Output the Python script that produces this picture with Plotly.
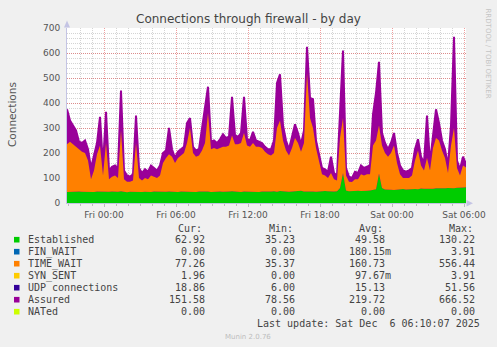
import plotly.graph_objects as go
import pandas as pd

# ---------------- data (15-minute samples) ----------------
start_time = "2025-12-04 20:55"
n_points = 134

established = [44,45,43,44,46,45,44,43,45,44,46,45,44,43,45,46,44,45,47,44,43,45,44,46,45,44,45,43,44,46,45,44,46,45,
               46,45,47,44,46,45,47,46,45,44,46,47,45,46,44,45,47,46,45,44,46,47,45,46,44,46,45,47,46,45,44,46,45,47,
               46,47,45,48,46,47,45,46,48,47,49,46,47,48,46,45,47,46,48,47,45,46,47,60,120,50,47,48,50,49,48,50,49,
               50,52,55,118,60,54,55,53,52,54,55,56,54,55,57,56,55,58,57,56,58,57,59,58,57,59,60,58,59,61,60,62,63]

time_wait = [191,200,192,181,169,160,156,127,50,86,149,185,66,197,50,59,66,55,243,51,42,40,46,194,55,46,55,52,66,59,55,66,114,135,
             149,140,113,136,144,155,193,254,155,141,144,163,195,314,171,175,168,174,180,181,184,223,190,189,196,234,185,178,194,180,181,174,160,148,
             144,153,255,282,204,163,145,174,212,193,156,194,473,292,254,175,123,69,62,53,75,49,43,200,220,60,38,36,45,46,67,60,66,
             65,178,195,192,170,146,130,147,178,106,60,44,46,45,53,114,155,92,73,124,72,163,201,192,153,121,60,172,241,79,50,88,77]

fin_wait = [0,0,0,0,0,0,0,0,0,0,0,0,0,0,0,0,0,0,0,0,0,0,0,0,0,0,0,0,0,0,0,0,0,0,
            0,0,0,0,0,0,0,0,0,0,0,0,0,0,0,0,0,0,0,0,0,0,0,0,0,0,0,0,0,0,0,0,0,0,
            0,0,0,0,0,0,0,0,0,0,0,0,0,0,0,0,0,0,0,0,0,0,0,0,0,0,0,0,0,0,0,0,0,
            0,0,0,0,0,0,0,0,0,0,0,0,0,0,0,0,0,0,0,0,0,0,0,0,0,0,0,0,0,0,0,0,0]
syn_sent = [0,0,0,0,0,0,0,0,0,0,0,0,0,0,0,0,0,0,0,0,0,0,0,0,0,0,0,0,0,0,0,0,0,0,
            0,0,0,0,0,0,0,0,0,0,0,0,0,0,0,0,0,0,0,0,0,0,0,0,0,0,0,0,0,0,0,0,0,0,
            0,0,0,0,0,0,0,0,0,0,0,0,0,0,0,0,0,0,0,0,0,0,0,0,0,0,0,0,0,0,0,0,0,
            0,0,0,0,0,0,0,0,0,0,0,0,0,0,0,0,0,0,0,0,0,0,0,0,0,0,0,0,0,0,0,0,2]

udp = [14,15,13,16,15,14,17,12,10,13,15,16,11,17,10,11,12,11,18,10,9,8,9,16,11,10,11,10,12,11,10,12,14,15,
       15,14,13,15,16,15,17,19,15,14,15,16,18,22,15,16,15,16,17,17,16,19,17,16,17,20,16,15,17,16,16,15,14,14,
       14,15,20,22,17,15,14,16,18,17,15,17,25,21,19,15,13,10,9,9,11,8,7,17,19,9,7,6,8,8,10,9,10,
       10,16,18,17,16,15,14,15,17,12,10,8,8,8,9,13,16,12,11,14,11,16,18,18,16,14,10,16,20,13,11,15,19]

assured = [375,330,310,290,245,240,250,215,140,185,240,345,150,365,130,145,150,140,450,130,110,105,115,350,140,120,135,125,150,140,130,150,200,210,
           300,215,180,205,215,225,320,340,225,210,215,300,390,465,245,250,240,255,275,260,265,425,270,265,280,425,255,250,285,250,245,240,225,215,
           215,250,480,515,310,250,215,270,315,280,235,290,625,420,415,250,195,140,135,125,185,120,110,350,610,140,105,100,125,120,150,140,145,
           150,355,440,565,280,240,215,240,280,200,150,130,125,130,140,215,255,185,160,350,160,270,375,320,250,215,150,310,665,170,135,185,157]

# legend table
legend_names = ["Established", "FIN_WAIT", "TIME_WAIT", "SYN_SENT", "UDP connections", "Assured", "NATed"]
legend_colors = ["#00CC00", "#0066B3", "#FF8000", "#FFCC00", "#330099", "#990099", "#CCFF00"]
cur_vals = ["62.92", "0.00", "77.26", "1.96", "18.86", "151.58", "0.00"]
min_vals = ["35.23", "0.00", "35.37", "0.00", "6.00", "78.56", "0.00"]
avg_vals = ["49.58", "180.15m", "160.73", "97.67m", "15.13", "219.72", "0.00"]
max_vals = ["130.22", "3.91", "556.44", "3.91", "51.56", "666.52", "0.00"]
headers = ["Cur:", "Min:", "Avg:", "Max:"]

y_ticks = [0, 100, 200, 300, 400, 500, 600, 700]
title_text = "Connections through firewall - by day"
y_title = "Connections"
last_update = "Last update: Sat Dec\u00a0\u00a06 06:10:07 2025"
version_text = "Munin 2.0.76"
side_text = "RRDTOOL / TOBI OETIKER"

# ---------------- figure ----------------
W, H = 497, 347
L, R, T, B = 67, 31, 28, 144
PW, PH = W - L - R, H - T - B

times = pd.date_range(start_time, periods=n_points, freq="15min")
SHAPE = "linear"


def px(x):
    return (x - L) / PW


def py(y):
    return (T + PH - y) / PH


fig = go.Figure()

# UDP area (lies under the Established area, hidden as in the original)
fig.add_trace(go.Scatter(x=times, y=udp, fill="tozeroy", fillcolor="#330099",
                         line=dict(width=0, shape=SHAPE), mode="lines", name="UDP connections"))
fig.add_trace(go.Scatter(x=times, y=established, stackgroup="s", fillcolor="#00CC00",
                         line=dict(width=0, shape=SHAPE, color="#00CC00"), mode="lines", name="Established"))
fig.add_trace(go.Scatter(x=times, y=fin_wait, stackgroup="s", fillcolor="#0066B3",
                         line=dict(width=0, shape=SHAPE, color="#0066B3"), mode="lines", name="FIN_WAIT"))
fig.add_trace(go.Scatter(x=times, y=time_wait, stackgroup="s", fillcolor="#FF8000",
                         line=dict(width=0, shape=SHAPE, color="#FF8000"), mode="lines", name="TIME_WAIT"))
fig.add_trace(go.Scatter(x=times, y=syn_sent, stackgroup="s", fillcolor="#FFCC00",
                         line=dict(width=0, shape=SHAPE, color="#FFCC00"), mode="lines", name="SYN_SENT"))
fig.add_trace(go.Scatter(x=times, y=assured, fill="tonexty", fillcolor="#990099",
                         line=dict(width=2, shape=SHAPE, color="#990099"), mode="lines", name="Assured"))

major_grid = "rgba(225,80,80,0.55)"
minor_grid = "#D4D4D4"
axis_col = "#C4C4E4"

fig.update_xaxes(
    type="date",
    range=[times[0], times[-1]],
    tick0="2025-12-05 00:00", dtick=6 * 3600 * 1000,
    tickformat="%a %H:%M",
    showgrid=True, gridcolor=major_grid, griddash="1px,1px", gridwidth=1,
    minor=dict(dtick=3600 * 1000, showgrid=True, gridcolor=minor_grid, griddash="1px,1px",
               ticks="outside", ticklen=2, tickcolor="#BBBBBB"),
    ticks="outside", ticklen=3, tickcolor="#BBBBBB",
    tickfont=dict(family="DejaVu Sans", size=9, color="#555555"),
    showline=True, linecolor=axis_col, linewidth=1,
    zeroline=False, fixedrange=True,
)
fig.update_yaxes(
    range=[0, 700], tickvals=y_ticks,
    showgrid=True, gridcolor=major_grid, griddash="1px,1px", gridwidth=1,
    minor=dict(dtick=20, showgrid=True, gridcolor=minor_grid, griddash="1px,1px"),
    ticks="outside", ticklen=4, tickcolor="rgba(0,0,0,0)",
    tickfont=dict(family="DejaVu Sans", size=9, color="#555555"),
    showline=True, linecolor=axis_col, linewidth=1,
    zeroline=False, fixedrange=True,
)

annotations = []
shapes = []


def ann(x, y, text, xanchor="left", size=10, color="#444444", family="DejaVu Sans Mono", angle=0):
    annotations.append(dict(x=px(x), y=py(y), xref="paper", yref="paper", text=text,
                            showarrow=False, xanchor=xanchor, yanchor="middle", textangle=angle,
                            font=dict(family=family, size=size, color=color)))


# title and axis titles
ann(248.5, 18.5, title_text, xanchor="center", size=12, color="#444444", family="DejaVu Sans")
ann(12, 115, y_title, xanchor="center", size=10.5, color="#555555", family="DejaVu Sans", angle=-90)
ann(487.5, 54, side_text, xanchor="center", size=7, color="#C4C4C4", family="DejaVu Sans", angle=90)

# legend header
for hx, htxt in zip((176, 266.5, 356.5, 446.5), headers):
    ann(hx, 228, htxt)

row_y0, row_dy = 239.7, 12
for i, name in enumerate(legend_names):
    yy = row_y0 + i * row_dy
    shapes.append(dict(type="rect", xref="paper", yref="paper",
                       x0=px(14), x1=px(19.5), y0=py(yy + 2.8), y1=py(yy - 2.8),
                       fillcolor=legend_colors[i], line=dict(width=0)))
    ann(26, yy, name)
    for col_right, vals in ((206.5, cur_vals), (296.7, min_vals), (386.7, avg_vals), (476.7, max_vals)):
        v = vals[i]
        xr = col_right + (6 if v.endswith("m") else 0)
        ann(xr, yy, v, xanchor="right")

ann(482, 323.5, last_update, xanchor="right")
ann(248, 337, version_text, xanchor="center", size=7, color="#BDBDBD", family="DejaVu Sans")

# axis arrows
ax_x, ax_y = 67, 203.3
shapes.append(dict(type="path", xref="paper", yref="paper",
                   path=f"M {px(ax_x)} {py(20.5)} L {px(ax_x - 3)} {py(27.5)} L {px(ax_x + 3)} {py(27.5)} Z",
                   fillcolor=axis_col, line=dict(width=0)))
shapes.append(dict(type="path", xref="paper", yref="paper",
                   path=f"M {px(473)} {py(ax_y)} L {px(466.5)} {py(ax_y - 3.2)} L {px(466.5)} {py(ax_y + 3.2)} Z",
                   fillcolor=axis_col, line=dict(width=0)))

fig.update_layout(
    width=W, height=H, autosize=False,
    margin=dict(l=L, r=R, t=T, b=B, pad=0),
    paper_bgcolor="#F0F0F0", plot_bgcolor="#FFFFFF",
    showlegend=False,
    annotations=annotations, shapes=shapes,
    font=dict(family="DejaVu Sans"),
)

fig.write_html("out.html", config={"displayModeBar": False})
